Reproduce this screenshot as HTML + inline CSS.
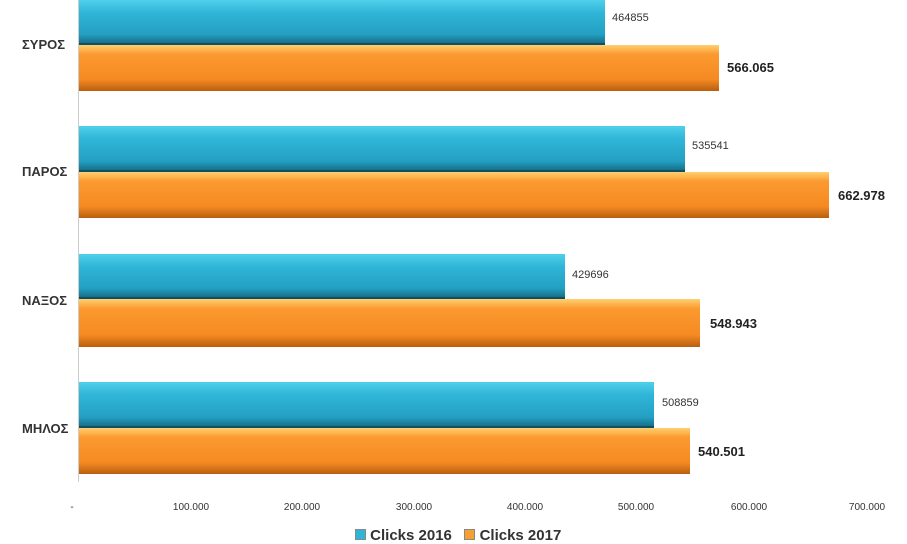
<!DOCTYPE html>
<html><head><style>
body{margin:0;width:907px;height:536px;background:#fff;overflow:hidden;position:relative;font-family:"Liberation Sans","DejaVu Sans",sans-serif}
.b{position:absolute;left:79px;box-sizing:border-box}
.c{background:linear-gradient(#4fd0ea 0%,#2fb5d8 30%,#249fc2 80%,#17708a 100%);border-bottom:2px solid #0f4f60}
.o{background:linear-gradient(#ffd070 0%,#fb9a30 20%,#f58a22 75%,#b85e10 100%)}
.l{position:absolute;font-size:11px;color:#333}
.v{position:absolute;font-size:13px;font-weight:bold;color:#222}
.cat{position:absolute;left:22px;font-size:13px;font-weight:bold;color:#333}
.t{position:absolute;top:502px;font-size:10px;color:#333;transform:translateX(-50%)}
</style></head><body>
<div style="position:absolute;left:78px;top:0;width:1px;height:482px;background:#ccc"></div>

<div class="b c" style="top:0;height:45px;width:526px"></div>
<div class="b o" style="top:45px;height:46px;width:640px"></div>
<div class="l" style="left:612px;top:12px">464855</div>
<div class="v" style="left:727px;top:60px">566.065</div>
<div class="cat" style="top:37px">ΣΥΡΟΣ</div>

<div class="b c" style="top:126px;height:46px;width:606px"></div>
<div class="b o" style="top:172px;height:46px;width:750px"></div>
<div class="l" style="left:692px;top:140px">535541</div>
<div class="v" style="left:838px;top:188px">662.978</div>
<div class="cat" style="top:164px">ΠΑΡΟΣ</div>

<div class="b c" style="top:254px;height:45px;width:486px"></div>
<div class="b o" style="top:299px;height:48px;width:621px"></div>
<div class="l" style="left:572px;top:269px">429696</div>
<div class="v" style="left:710px;top:316px">548.943</div>
<div class="cat" style="top:293px">ΝΑΞΟΣ</div>

<div class="b c" style="top:382px;height:46px;width:575px"></div>
<div class="b o" style="top:428px;height:46px;width:611px"></div>
<div class="l" style="left:662px;top:397px">508859</div>
<div class="v" style="left:698px;top:444px">540.501</div>
<div class="cat" style="top:421px">ΜΗΛΟΣ</div>

<div class="t" style="left:72px">-</div>
<div class="t" style="left:191px">100.000</div>
<div class="t" style="left:302px">200.000</div>
<div class="t" style="left:414px">300.000</div>
<div class="t" style="left:525px">400.000</div>
<div class="t" style="left:636px">500.000</div>
<div class="t" style="left:749px">600.000</div>
<div class="t" style="left:867px">700.000</div>

<div style="position:absolute;top:527px;left:355px;font-size:15px;font-weight:bold;color:#333;white-space:nowrap">
<span style="display:inline-block;width:9px;height:9px;background:#2fb5d8;border:1px solid #888"></span> Clicks 2016 &nbsp;
<span style="display:inline-block;width:9px;height:9px;background:#f5a030;border:1px solid #888"></span> Clicks 2017</div>
</body></html>
